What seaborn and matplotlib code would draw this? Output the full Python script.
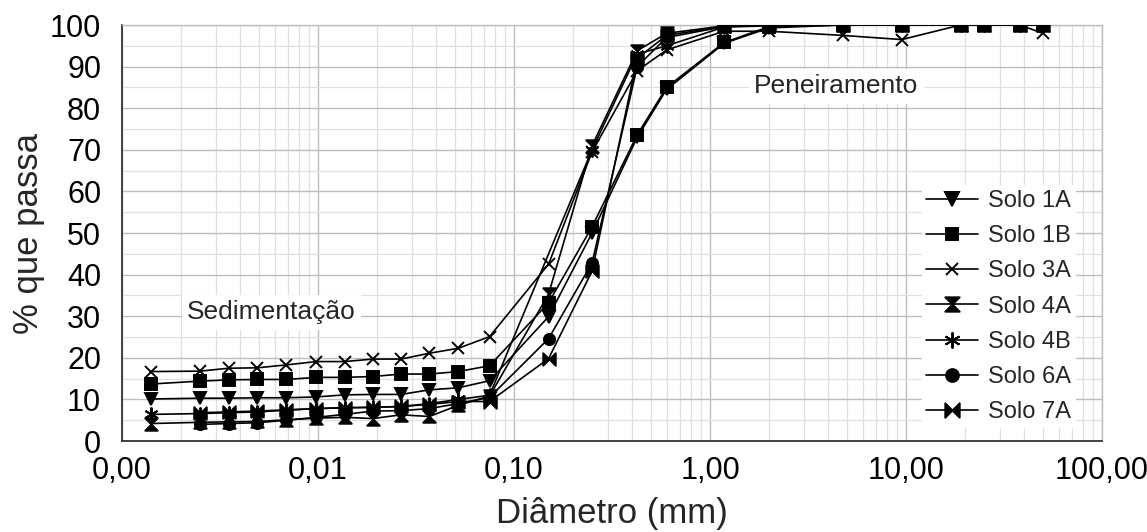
import numpy as np
import pandas as pd
import matplotlib
matplotlib.use("Agg")
import matplotlib.pyplot as plt
from matplotlib.path import Path
from matplotlib.ticker import FixedLocator, FuncFormatter, LogLocator, NullFormatter
import seaborn as sns

# Grain diameters (mm): sedimentation readings followed by sieve openings
diam_sed = [0.0014, 0.0025, 0.0035, 0.0049, 0.0069, 0.0098, 0.0137, 0.019, 0.0265, 0.037, 0.052]
diam_sieve = [0.075, 0.15, 0.25, 0.425, 0.6, 1.18, 2.0, 4.75, 9.5, 19.0, 25.0, 38.0, 50.0]

# Percent passing for each soil (None = no reading at that diameter)
solo_1a = [10.1, 10.3, 10.3, 10.4, 10.4, 10.6, 11.1, 11.2, 11.2, 12.3, 12.8,
           14.5, 29.9, 50.0, 73.0, 84.5, 95.6, 99.3, 100, 100, 100, 100, 100, 100]
solo_1b = [13.7, 14.4, 14.7, 14.8, 14.8, 15.3, 15.3, 15.5, 16.1, 16.1, 16.7,
           18.1, 33.2, 51.5, 73.6, 85.0, 95.8, 99.6, 100, 100, 100, 100, 100, 100]
solo_3a = [16.7, 16.8, 17.5, 17.6, 18.3, 19.1, 19.1, 19.7, 19.7, 21.1, 22.3,
           25.1, 42.5, 69.5, 89.0, 94.0, 98.5, 98.5, 97.5, 96.5, 100, 100, 100, 98.0]
solo_4a = [4.2, 4.5, 4.6, 4.7, 5.1, 5.5, 5.7, 5.4, 6.3, 5.9, 8.6,
           10.8, 35.3, 71.0, 93.8, 98.0, 99.8, 100, 100, 100, 100, 100, 100, 100]
solo_4b = [6.4, 6.6, 6.8, 7.0, 7.4, 7.8, 8.0, 8.1, 8.3, 9.0, 10.0,
           11.0, None, 70.0, 93.0, 95.0, 99.5, 99.8, 100, 100, 100, 100, 100, 100]
solo_6a = [None, 4.0, 4.2, 4.4, 5.0, 5.7, 6.4, 7.2, 7.3, 7.8, 9.0,
           10.5, 24.6, 42.8, 90.0, 97.0, 99.6, 100, 100, 100, 100, 100, 100, 100]
solo_7a = [None, 6.8, 7.0, 7.2, 7.5, 7.8, 8.0, 8.1, 8.3, 8.8, 9.5,
           9.5, 19.8, 40.8, 92.0, 97.5, 99.7, 100, 100, 100, 100, 100, 100, 100]

soil_names = ["Solo 1A", "Solo 1B", "Solo 3A", "Solo 4A", "Solo 4B", "Solo 6A", "Solo 7A"]
soil_values = [solo_1a, solo_1b, solo_3a, solo_4a, solo_4b, solo_6a, solo_7a]

x_tick_values = [0.001, 0.01, 0.1, 1, 10, 100]
x_tick_labels = ["0,00", "0,01", "0,10", "1,00", "10,00", "100,00"]
y_tick_values = list(range(0, 101, 10))

# Two-triangle markers
M, L, C = Path.MOVETO, Path.LINETO, Path.CLOSEPOLY
hourglass = Path([(-1, 1), (1, 1), (0, 0), (-1, 1), (-1, -1), (1, -1), (0, 0), (-1, -1)],
                 [M, L, L, C, M, L, L, C])
bowtie = Path([(-1, -1), (-1, 1), (0, 0), (-1, -1), (1, -1), (1, 1), (0, 0), (1, -1)],
              [M, L, L, C, M, L, L, C])

marker_map = {
    "Solo 1A": ("v", 9),
    "Solo 1B": ("s", 8),
    "Solo 3A": ("x", 8),
    "Solo 4A": (hourglass, 9),
    "Solo 4B": ((6, 2, 0), 10),
    "Solo 6A": ("o", 8),
    "Solo 7A": (bowtie, 9),
}

diameters = diam_sed + diam_sieve
rows = []
for name, vals in zip(soil_names, soil_values):
    for d, v in zip(diameters, vals):
        if v is not None:
            rows.append({"solo": name, "diametro": d, "passa": v})
df = pd.DataFrame(rows)

sns.set_style("white")
plt.rcParams["font.family"] = ["Liberation Sans", "DejaVu Sans"]

fig = plt.figure(figsize=(11.47, 5.32), dpi=100)
ax = fig.add_axes([0.1064, 0.171, 0.8544, 0.782])

for name in soil_names:
    sub = df[df["solo"] == name]
    mk, ms = marker_map[name]
    sns.lineplot(data=sub, x="diametro", y="passa", ax=ax, sort=False, estimator=None,
                 color="black", linewidth=1.2, marker=mk, markersize=ms,
                 markeredgecolor="black", markerfacecolor="black",
                 markeredgewidth=1.4, label=name, zorder=3)

ax.set_xscale("log")
ax.set_xlim(0.001, 100)
ax.set_ylim(0, 100)

ax.xaxis.set_major_locator(FixedLocator(x_tick_values))
ax.xaxis.set_major_formatter(FuncFormatter(
    lambda v, pos: x_tick_labels[x_tick_values.index(v)] if v in x_tick_values else ""))
ax.xaxis.set_minor_locator(LogLocator(base=10, subs=np.arange(2, 10)))
ax.xaxis.set_minor_formatter(NullFormatter())
ax.yaxis.set_major_locator(FixedLocator(y_tick_values))
ax.yaxis.set_minor_locator(FixedLocator(list(range(5, 100, 10))))

ax.grid(which="major", color="#bdbdbd", linewidth=1.0, zorder=0)
ax.grid(which="minor", color="#e0e0e0", linewidth=0.9, zorder=0)
ax.set_axisbelow(True)

ax.tick_params(axis="both", which="major", direction="out", length=7, width=1.2,
               color="#333333", labelsize=22, labelcolor="black")
ax.tick_params(axis="x", which="major", pad=4)
ax.tick_params(axis="y", which="major", pad=8)
ax.tick_params(axis="both", which="minor", length=0)

for side in ["left", "bottom"]:
    ax.spines[side].set_color("#333333")
    ax.spines[side].set_linewidth(1.3)
for side in ["top", "right"]:
    ax.spines[side].set_color("#bdbdbd")
    ax.spines[side].set_linewidth(1.0)

ax.set_xlabel("Diâmetro (mm)", fontsize=25)
ax.set_ylabel("% que passa", fontsize=25)
ax.xaxis.set_label_coords(0.5, -0.135)
ax.yaxis.set_label_coords(-0.079, 0.5)

box = dict(facecolor="white", edgecolor="none", pad=4)
ax.text(0.00215, 31, "Sedimentação", fontsize=19, va="center", ha="left", bbox=box, zorder=2)
ax.text(1.68, 85.3, "Peneiramento", fontsize=19, va="center", ha="left", bbox=box, zorder=2)

handles, labels = ax.get_legend_handles_labels()
leg = ax.legend(handles, labels, loc="lower right", bbox_to_anchor=(0.985, 0.003),
                fontsize=17, frameon=True, facecolor="white", edgecolor="none",
                framealpha=1, fancybox=False, handlelength=2.2, labelspacing=0.56,
                handletextpad=0.4, borderpad=0.2, markerscale=1.15)
leg.set_zorder(4)

fig.savefig("out.png", dpi=100)
